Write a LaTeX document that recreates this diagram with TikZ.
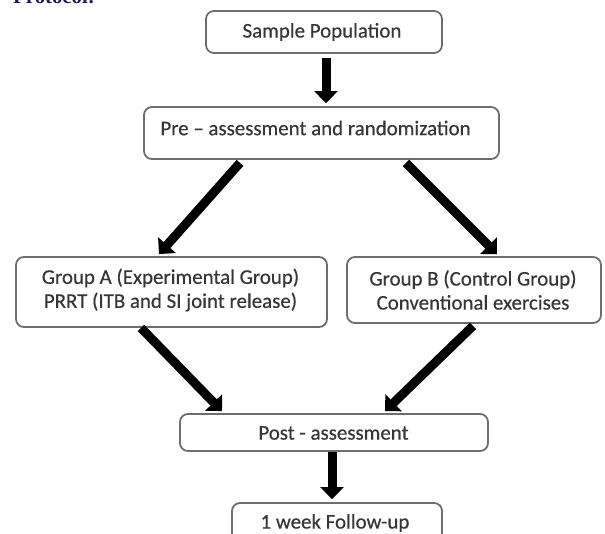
\documentclass[tikz,border=0pt]{standalone}
\usepackage{fontspec}
\setmainfont{Carlito}
\newfontfamily\boxfont[FakeBold=0.4]{Carlito}
\newfontfamily\protofont{Liberation Serif}
\usetikzlibrary{arrows.meta,calc}
\definecolor{boxline}{HTML}{6E6E6E}
\definecolor{boxtext}{HTML}{363636}
\definecolor{navy}{HTML}{1A1A5E}
\tikzset{
  flowbox/.style={draw=boxline, line width=1.8pt, rounded corners=8pt, fill=white, inner sep=0pt},
  boxlabel/.style={text=boxtext, font=\boxfont\fontsize{20.9}{24}\selectfont, align=center, inner sep=0pt},
  bigarrow/.style={line width=9pt, -{Triangle[width=23pt,length=12pt]}, black}
}
\begin{document}
\begin{tikzpicture}[x=1pt,y=1pt]
\useasboundingbox (0,0) rectangle (605,-534);
\clip (0,0) rectangle (605,-534);
\node[anchor=base west, inner sep=0pt, text=navy, font=\protofont\bfseries\fontsize{20.8}{24}\selectfont] (proto) at (13,-4) {Protocol:};
% boxes
\node[flowbox, minimum width=236pt, minimum height=42pt] (sample) at (324,-32) {};
\node[boxlabel] (sampletext) at (322,-32) {Sample Population};
\node[flowbox, minimum width=355pt, minimum height=52pt] (pre) at (321.5,-133) {};
\node[boxlabel] (pretext) at (315.5,-128) {Pre – assessment and randomization};
\node[flowbox, minimum width=311pt, minimum height=70pt] (groupA) at (171.5,-292) {};
\node[boxlabel] (groupAtext) at (170.5,-290) {Group A (Experimental Group)\\PRRT (ITB and SI joint release)};
\node[flowbox, minimum width=254pt, minimum height=66pt] (groupB) at (474,-290) {};
\node[boxlabel] (groupBtext) at (473,-290) {Group B (Control Group)\\Conventional exercises};
\node[flowbox, minimum width=308pt, minimum height=37pt] (post) at (334,-432.5) {};
\node[boxlabel] (posttext) at (333.5,-433) {Post - assessment};
\node[flowbox, minimum width=210pt, minimum height=40pt] (follow) at (337,-523) {};
\node[boxlabel] (followtext) at (335,-523) {1 week Follow-up};
% arrows
\draw[bigarrow] ($(sample.south)+(2,-4)$) -- ($(pre.north)+(4.5,3)$);
\draw[bigarrow] ($(pre.south)+(-81.5,-3)$) -- ($(groupA.north)+(-12.5,2)$);
\draw[bigarrow] ($(pre.south)+(84.5,-3)$) -- ($(groupB.north)+(23,2)$);
\draw[bigarrow] ($(groupA.south)+(-30.5,0)$) -- ($(post.north)+(-112,2)$);
\draw[bigarrow] ($(groupB.south)+(-1,-2)$) -- ($(post.north)+(51,2)$);
\draw[bigarrow] ($(post.south)+(-2,0)$) -- ($(follow.north)+(-5,3)$);
\end{tikzpicture}
\end{document}
